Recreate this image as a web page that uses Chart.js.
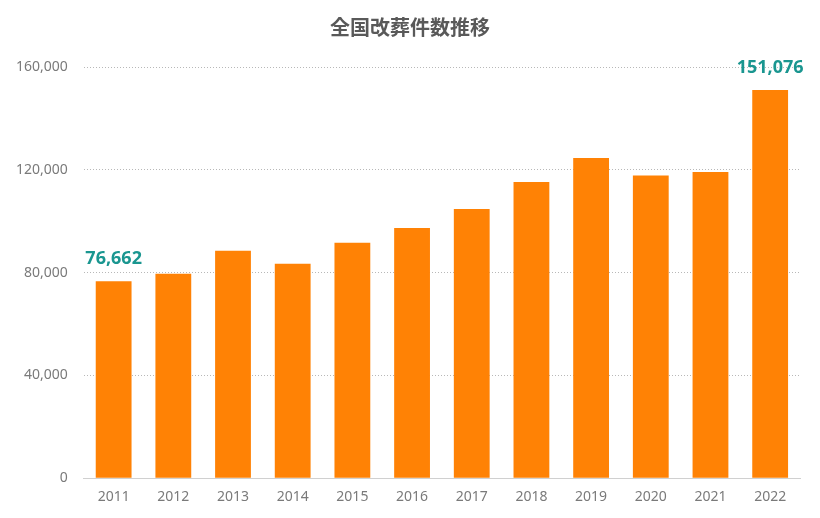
<!DOCTYPE html>
<html>
<head>
<meta charset="utf-8">
<script src="https://cdn.jsdelivr.net/npm/chart.js@4.4.1/dist/chart.umd.min.js"></script>
<style>
html,body{margin:0;padding:0;background:#fff;}
#wrap{width:820px;height:518px;}
</style>
</head>
<body>
<div id="wrap"><canvas id="c" width="820" height="518"></canvas></div>
<script>
const categories = ['2011','2012','2013','2014','2015','2016','2017','2018','2019','2020','2021','2022'];
const values = [76662, 79600, 88500, 83400, 91600, 97400, 104700, 115300, 124600, 117800, 119100, 151076];
const labelledIndexes = [0, 11];
const yTicks = [0, 40000, 80000, 120000, 160000];
const titleText = '全国改葬件数推移';

const fmt = v => v.toLocaleString('en-US');

const valueLabels = {
  id: 'valueLabels',
  afterDatasetsDraw(chart) {
    const ctx = chart.ctx;
    const meta = chart.getDatasetMeta(0);
    ctx.save();
    ctx.fillStyle = '#1a9690';
    ctx.font = 'bold 18px "Noto Sans", "Liberation Sans", sans-serif';
    ctx.textAlign = 'center';
    ctx.textBaseline = 'bottom';
    labelledIndexes.forEach(i => {
      const el = meta.data[i];
      ctx.fillText(fmt(values[i]), el.x, el.y - 13);
    });
    ctx.restore();
  }
};

new Chart(document.getElementById('c'), {
  type: 'bar',
  data: {
    labels: categories,
    datasets: [{
      data: values,
      backgroundColor: '#ff8205',
      borderWidth: 0,
      categoryPercentage: 1.0,
      barPercentage: 0.6,
      yAxisID: 'y'
    }]
  },
  options: {
    responsive: false,
    animation: false,
    devicePixelRatio: 1,
    layout: { padding: { left: 0, right: 0, top: 0, bottom: 3 } },
    plugins: {
      legend: { display: false },
      tooltip: { enabled: false },
      title: {
        display: true,
        text: titleText,
        color: '#595959',
        font: { family: '"Noto Sans CJK JP", sans-serif', size: 20, weight: 'bold' },
        padding: { top: 15, bottom: 28 }
      }
    },
    scales: {
      x: {
        grid: { display: false, drawTicks: false },
        border: { display: true, color: '#d0d0d0', width: 1 },
        ticks: {
          color: '#7a7a7a',
          font: { family: '"Noto Sans", "Liberation Sans", sans-serif', size: 14 },
          padding: 10
        }
      },
      y: {
        position: 'left',
        min: 0,
        max: 160000,
        afterBuildTicks(scale) { scale.ticks = yTicks.map(v => ({ value: v })); },
        grid: {
          color: '#b8b8b8',
          drawTicks: false,
          lineWidth: 1
        },
        border: { display: false, dash: [1, 2] },
        ticks: {
          color: '#7a7a7a',
          font: { family: '"Noto Sans", "Liberation Sans", sans-serif', size: 14 },
          padding: 16,
          callback: v => fmt(v)
        }
      },
      yRight: {
        position: 'right',
        display: true,
        min: 0,
        max: 160000,
        grid: { display: false, drawTicks: false },
        border: { display: false },
        ticks: { display: false },
        afterFit(scale) { scale.width = 20; }
      }
    }
  },
  plugins: [valueLabels]
});
</script>
</body>
</html>
